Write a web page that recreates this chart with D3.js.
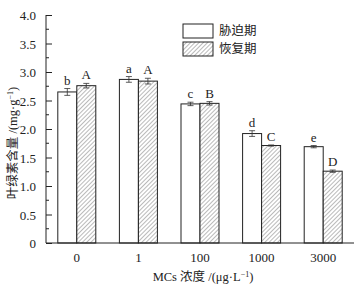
<!DOCTYPE html>
<html>
<head>
<meta charset="utf-8">
<script src="https://cdn.jsdelivr.net/npm/d3@7"></script>
<style>
  body { margin: 0; background: #fff; }
  svg text { font-family: "Liberation Serif", "Times New Roman", "Noto Sans CJK SC", serif !important; fill: #222; }
</style>
</head>
<body>
<div id="chart"></div>
<script>
// data
const categories = ["0", "1", "100", "1000", "3000"];
const stressVals = [2.65, 2.87, 2.44, 1.92, 1.69];
const stressErr = [0.06, 0.05, 0.03, 0.05, 0.02];
const stressLetters = ["b", "a", "c", "d", "e"];
const recoveryVals = [2.76, 2.84, 2.45, 1.71, 1.26];
const recoveryErr = [0.04, 0.05, 0.03, 0.01, 0.02];
const recoveryLetters = ["A", "A", "B", "C", "D"];
const seriesNames = ["胁迫期", "恢复期"];
const yTicks = [0, 0.5, 1.0, 1.5, 2.0, 2.5, 3.0, 3.5, 4.0];

const width = 362, height = 286;
const margin = {top: 15, left: 46, right: 8, bottom: 43};
const plotWidth = width - margin.left - margin.right;
const plotHeight = height - margin.top - margin.bottom;

const svg = d3.select("#chart").append("svg")
    .attr("width", width)
    .attr("height", height);

const defs = svg.append("defs");
const pat = defs.append("pattern")
    .attr("id", "hatch")
    .attr("patternUnits", "userSpaceOnUse")
    .attr("width", 3)
    .attr("height", 3)
    .attr("patternTransform", "rotate(45)");
pat.append("rect").attr("width", 3).attr("height", 3).attr("fill", "#fff");
pat.append("line")
    .attr("x1", 0).attr("y1", 0).attr("x2", 0).attr("y2", 3)
    .attr("stroke", "#666").attr("stroke-width", 0.9);

/***** SCALES *****/
const xScale = d3.scaleBand()
    .domain(categories)
    .range([0, plotWidth]);

const barW = 19;

const yScale = d3.scaleLinear()
    .domain([0, 4])
    .range([plotHeight, 0]);

const plot = svg.append("g")
    .attr("transform", `translate(${margin.left}, ${margin.top})`);

/***** BARS *****/
const series = [
    {vals: stressVals, err: stressErr, letters: stressLetters, fill: "#fff", off: -barW},
    {vals: recoveryVals, err: recoveryErr, letters: recoveryLetters, fill: "url(#hatch)", off: 0}
];

series.forEach(s => {
    const rows = categories.map((c, i) => ({c: c, v: s.vals[i], e: s.err[i], l: s.letters[i]}));
    const cx = d => xScale(d.c) + xScale.bandwidth() / 2 + s.off;

    plot.selectAll(null)
        .data(rows)
        .enter()
        .append("rect")
        .attr("x", cx)
        .attr("y", d => yScale(d.v))
        .attr("width", barW)
        .attr("height", d => plotHeight - yScale(d.v))
        .attr("fill", s.fill)
        .attr("stroke", "#222")
        .attr("stroke-width", 1);

    // error bars
    const eb = plot.selectAll(null)
        .data(rows)
        .enter()
        .append("g")
        .attr("stroke", "#333")
        .attr("stroke-width", 0.8);
    eb.append("line")
        .attr("x1", d => cx(d) + barW / 2).attr("x2", d => cx(d) + barW / 2)
        .attr("y1", d => yScale(d.v - d.e)).attr("y2", d => yScale(d.v + d.e));
    eb.append("line")
        .attr("x1", d => cx(d) + barW / 2 - 3).attr("x2", d => cx(d) + barW / 2 + 3)
        .attr("y1", d => yScale(d.v + d.e)).attr("y2", d => yScale(d.v + d.e));
    eb.append("line")
        .attr("x1", d => cx(d) + barW / 2 - 3).attr("x2", d => cx(d) + barW / 2 + 3)
        .attr("y1", d => yScale(d.v - d.e)).attr("y2", d => yScale(d.v - d.e));

    // significance letters
    plot.selectAll(null)
        .data(rows)
        .enter()
        .append("text")
        .attr("x", d => cx(d) + barW / 2)
        .attr("y", d => yScale(d.v + d.e) - 4)
        .attr("text-anchor", "middle")
        .style("font-size", "13px")
        .text(d => d.l);
});

/***** AXES *****/
const yAxisG = plot.append("g")
    .call(d3.axisLeft(yScale)
        .tickValues(yTicks)
        .tickSize(-6)
        .tickPadding(10)
        .tickFormat(d => d === 0 ? "0" : d3.format(".1f")(d)));
yAxisG.attr("font-family", null);
yAxisG.select(".domain").attr("stroke", "#222").attr("d", `M0,${plotHeight}V0`);
yAxisG.selectAll("line").attr("stroke", "#222");
yAxisG.selectAll("text")
    .style("font-size", "13px")
    .attr("dy", "0.35em");

// minor ticks
plot.append("g")
    .selectAll("line")
    .data(d3.range(0.25, 4, 0.5))
    .enter()
    .append("line")
    .attr("x1", 0).attr("x2", 3)
    .attr("y1", d => yScale(d)).attr("y2", d => yScale(d))
    .attr("stroke", "#222");

const xAxisG = plot.append("g")
    .attr("transform", `translate(0, ${plotHeight})`)
    .call(d3.axisBottom(xScale).tickSize(0).tickPadding(10));
xAxisG.attr("font-family", null);
xAxisG.select(".domain").attr("stroke", "#222").attr("d", `M0,0H${plotWidth}`);
xAxisG.selectAll("text").style("font-size", "13px");

/***** AXIS TITLES *****/
svg.append("text")
    .attr("transform", `translate(17, ${margin.top + plotHeight / 2 + 14}) rotate(-90)`)
    .attr("text-anchor", "middle")
    .style("font-size", "12.5px")
    .html("叶绿素含量 /(mg·g<tspan dy='-4' font-size='8px'>−1</tspan><tspan dy='4'>)</tspan>");

svg.append("text")
    .attr("x", 203)
    .attr("y", 281)
    .attr("text-anchor", "middle")
    .style("font-size", "12.5px")
    .html("MCs 浓度 /(μg·L<tspan dy='-4' font-size='8px'>−1</tspan><tspan dy='4'>)</tspan>");

/***** LEGEND *****/
const legend = svg.append("g").attr("transform", "translate(183, 24)");
legend.selectAll("rect")
    .data(seriesNames)
    .enter()
    .append("rect")
    .attr("x", 0)
    .attr("y", (d, i) => i * 18)
    .attr("width", 30)
    .attr("height", 14)
    .attr("fill", (d, i) => i === 0 ? "#fff" : "url(#hatch)")
    .attr("stroke", "#222");
legend.selectAll("text")
    .data(seriesNames)
    .enter()
    .append("text")
    .attr("x", 36)
    .attr("y", (d, i) => i * 18 + 7)
    .attr("dy", "0.35em")
    .style("font-size", "12.5px")
    .text(d => d);
</script>
</body>
</html>
